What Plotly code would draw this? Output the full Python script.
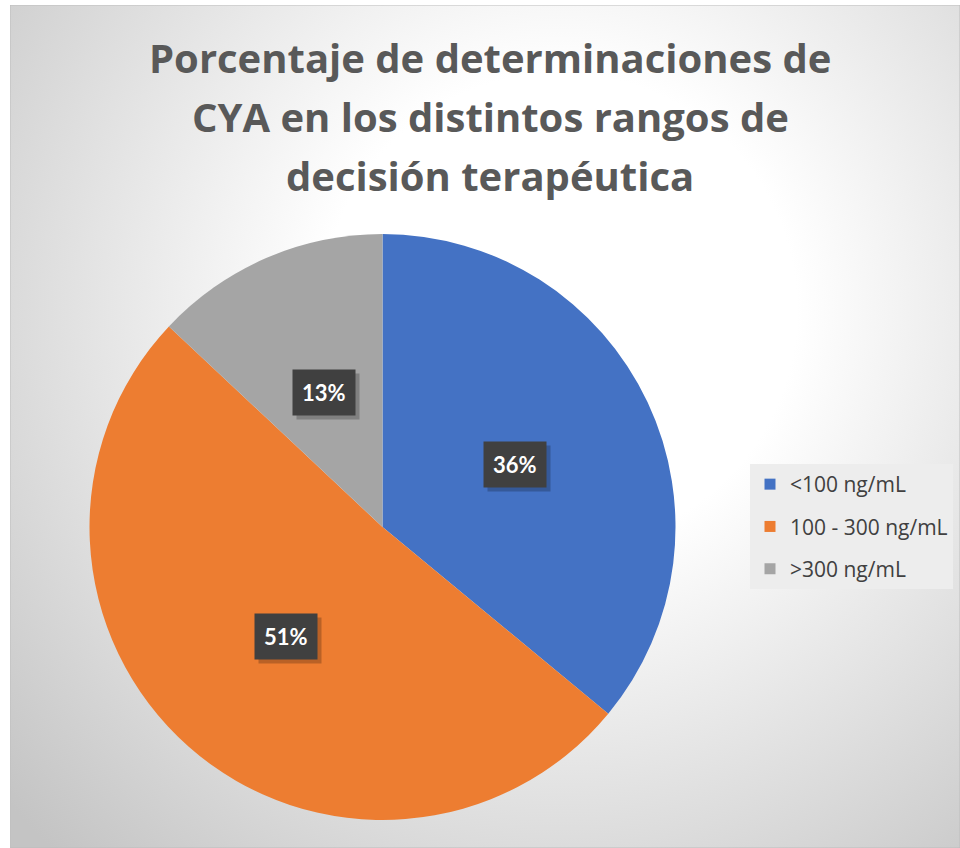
import numpy as np
import plotly.graph_objects as go

# ---- data ----
categories = ["<100 ng/mL", "100 - 300 ng/mL", ">300 ng/mL"]
values = [36, 51, 13]
colors = ["#4472C4", "#ED7D31", "#A5A5A5"]
title_lines = ["Porcentaje de determinaciones de", "CYA en los distintos rangos de", "decisión terapéutica"]

# ---- layout constants (pixels) ----
W, H = 960, 848
CX, CY, R = 382.5, 527.0, 293.0          # pie centre / radius in px
AREA_X0, AREA_Y0 = 10, 5                 # chart area top-left
TITLE_X, TITLE_Y0, TITLE_DY = 490, 57, 59

fig = go.Figure()

# radial gradient background (bbox centred at gradient centre, clipped by the plot area)
gcx, gcy, grad_r = 560, 310, 740
fig.add_trace(go.Scatter(
    x=[gcx - grad_r, gcx + grad_r, gcx + grad_r, gcx - grad_r, gcx - grad_r],
    y=[gcy - grad_r, gcy - grad_r, gcy + grad_r, gcy + grad_r, gcy - grad_r],
    mode="lines", line=dict(width=0), fill="toself",
    fillgradient=dict(type="radial",
                      colorscale=[[0, "#ffffff"], [0.32, "#ffffff"], [1, "#c4c4c4"]]),
    showlegend=False, hoverinfo="skip",
))

# legend entries (dummy traces so the legend can be spaced like the reference)
for i, (cat, col) in enumerate(zip(categories, colors)):
    fig.add_trace(go.Scatter(
        x=[None], y=[None], mode="markers", name=cat, legendgroup=f"g{i}",
        marker=dict(symbol="square", size=11, color=col),
    ))

fig.add_trace(go.Pie(
    labels=categories, values=values, sort=False, direction="clockwise", rotation=0,
    marker=dict(colors=colors, line=dict(width=0)),
    textinfo="none", hoverinfo="label+percent", showlegend=False,
    domain=dict(x=[(CX - R) / W, (CX + R) / W], y=[1 - (CY + R) / H, 1 - (CY - R) / H]),
))

annotations = []

# title, one line per annotation (to match the reference line spacing)
for k, line in enumerate(title_lines):
    annotations.append(dict(
        x=TITLE_X, y=TITLE_Y0 + k * TITLE_DY, xref="x", yref="y", text=line,
        showarrow=False, xanchor="center", yanchor="middle",
        font=dict(family="Open Sans", size=40, color="#595959", weight="bold"),
    ))

# data labels at half radius on each slice's mid-angle
vals = np.array(values, dtype=float)
frac = vals / vals.sum()
ends = np.cumsum(frac) * 2 * np.pi
mids = ends - frac * np.pi
for f, a in zip(frac, mids):
    lx = CX + 0.5 * R * np.sin(a)
    ly = CY - 0.5 * R * np.cos(a)
    txt = f"{round(f * 100)}%"
    common = dict(x=lx, y=ly, xref="x", yref="y", text=f"<b>{txt}</b>", showarrow=False,
                  borderpad=9)
    annotations.append(dict(common, xshift=4, yshift=-4, bgcolor="rgba(0,0,0,0.22)",
                            font=dict(family="Lato", size=22, color="rgba(0,0,0,0)")))
    annotations.append(dict(common, bgcolor="#404040",
                            font=dict(family="Lato", size=22, color="#ffffff")))

fig.update_layout(
    width=W, height=H,
    margin=dict(l=0, r=0, t=0, b=0),
    paper_bgcolor="#ffffff", plot_bgcolor="rgba(0,0,0,0)",
    xaxis=dict(range=[AREA_X0, W], domain=[AREA_X0 / W, 1], visible=False, fixedrange=True),
    yaxis=dict(range=[H, AREA_Y0], domain=[0, 1 - AREA_Y0 / H], visible=False, fixedrange=True),
    legend=dict(x=750 / W, y=1 - 464 / H, xanchor="left", yanchor="top",
                bgcolor="#ededed", font=dict(family="Open Sans", size=21, color="#404040"),
                tracegroupgap=12, itemsizing="trace"),
    annotations=annotations,
    shapes=[dict(type="rect", xref="x", yref="y", x0=AREA_X0, x1=W, y0=AREA_Y0, y1=H,
                 line=dict(color="#bdbdbd", width=1), layer="above")],
)

fig.write_html("out.html", config={"displayModeBar": False},
               post_script="document.body.style.margin='0px';")
